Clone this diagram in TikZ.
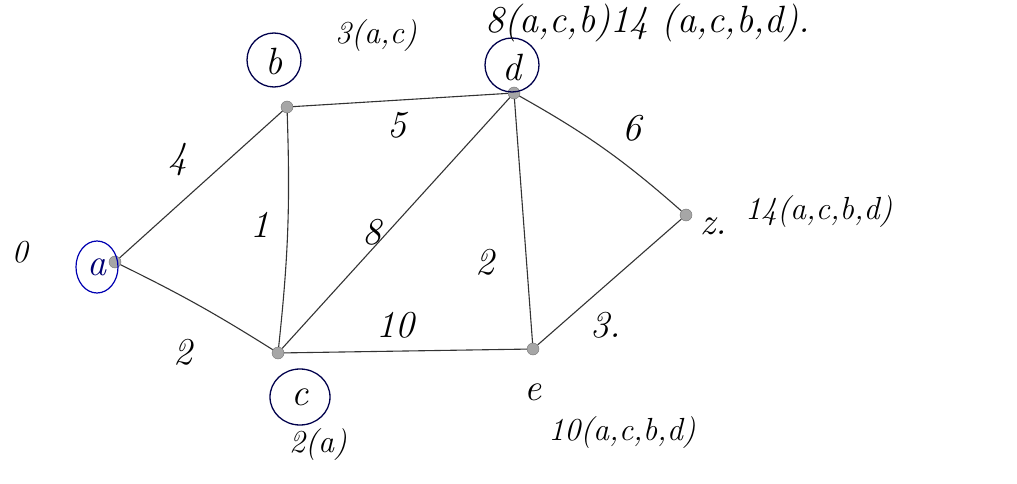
\documentclass[tikz,border=0pt]{standalone}
\usepackage{fontspec}
\begin{document}
\begin{tikzpicture}[x=1pt,y=-1pt,
  vtx/.style={circle,fill=gray!70,draw=gray!90!black,inner sep=0pt,minimum size=12pt},
  edge/.style={draw=black!80,line width=1.1pt},
  hw/.style={font=\fontsize{38}{40}\selectfont\itshape,inner sep=0pt},
  sm/.style={font=\fontsize{32}{34}\selectfont\itshape,inner sep=0pt},
  ring/.style={draw=blue!30!black,line width=1.3pt},
  ]
\useasboundingbox[fill=white] (0,0) rectangle (1017,484);
% vertices
\node[vtx] (a) at (115,262) {};
\node[vtx] (b) at (287,107) {};
\node[vtx] (c) at (278,353) {};
\node[vtx] (d) at (514,93) {};
\node[vtx] (e) at (533,349) {};
\node[vtx] (z) at (686,215) {};
% edges
\draw[edge] (a) -- (b);
\draw[edge] (a) to[bend left=3] (c);
\draw[edge] (b) to[bend left=4] (c);
\draw[edge] (b) -- (d);
\draw[edge] (c) -- (d);
\draw[edge] (c) -- (e);
\draw[edge] (d) -- (e);
\draw[edge] (d) to[bend left=6] (z);
\draw[edge] (e) -- (z);
% edge weights
\node[hw] (w4) at (178,160) {4};
\node[hw] (w5) at (397,125) {5};
\node[hw] (w6) at (632,128) {6};
\node[hw] (w1) at (260,225) {1};
\node[hw] (w8) at (372,232) {8};
\node[hw] (w2b) at (485,262) {2};
\node[hw] (w10) at (395,325) {10};
\node[hw] (w3) at (606,325) {3.};
\node[hw] (w2) at (183,352) {2};
% vertex letters with rings
\node[hw,text=blue!45!black] (la) at (97,267) {a};
\draw[draw=blue!70!black,line width=1.2pt] (97,267) ellipse [x radius=21pt, y radius=26pt];
\node[hw] (lb) at (274,62) {b};
\draw[ring] (274,60) circle [radius=27pt];
\node[hw] (ld) at (512,68) {d};
\draw[ring] (512,65) circle [radius=27pt];
\node[hw] (lc) at (300,397) {c};
\draw[ring] (300,397) ellipse [x radius=30pt, y radius=28pt];
\node[hw] (le) at (533,392) {e};
\node[hw] (lz) at (714,226) {z.};
% distance labels
\node[sm] (t0) at (20,252) {0};
\node[sm] (tb) at (376,36) {3(a,c)};
\node[hw,anchor=west] (td) at (485,23) {8(a,c,b)14 (a,c,b,d).};
\node[sm] (tc) at (318,445) {2(a)};
\node[sm] (te) at (622,433) {10(a,c,b,d)};
\node[sm,anchor=west] (tz) at (745,212) {14(a,c,b,d)};
\end{tikzpicture}
\end{document}
